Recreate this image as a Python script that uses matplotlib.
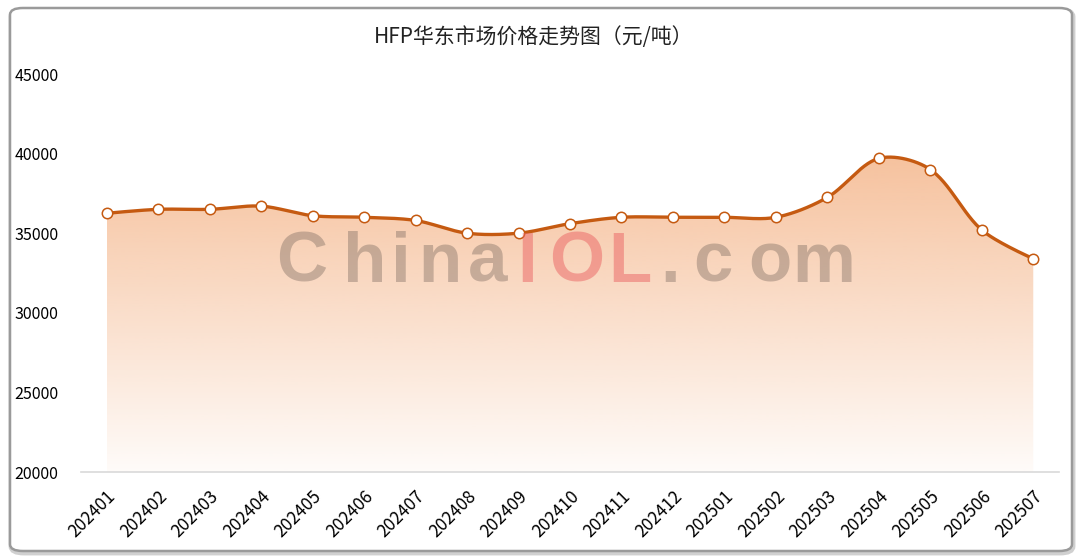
import numpy as np
import matplotlib
matplotlib.use("Agg")
import matplotlib.pyplot as plt
from matplotlib.patches import FancyBboxPatch, PathPatch
from matplotlib.path import Path

plt.rcParams['font.family'] = ['Noto Sans CJK SC', 'DejaVu Sans']

months = ['202401', '202402', '202403', '202404', '202405', '202406', '202407',
          '202408', '202409', '202410', '202411', '202412', '202501', '202502',
          '202503', '202504', '202505', '202506', '202507']
prices = [36250, 36500, 36500, 36700, 36100, 36000, 35800,
          35000, 35000, 35600, 36000, 36000, 36000, 36000,
          37250, 39700, 39000, 35200, 33400]
yticks = [20000, 25000, 30000, 35000, 40000, 45000]
title = 'HFP华东市场价格走势图（元/吨）'

line_col = '#c55a11'


def smooth_curve(xs, ys, sx, sy, smooth=0.5, n=30):
    # echarts-like bezier smoothing done in pixel-ish space
    X = np.asarray(xs, float) * sx
    Y = np.asarray(ys, float) * sy
    m = len(X)
    cp_in = np.zeros((m, 2))
    cp_out = np.zeros((m, 2))
    for i in range(m):
        if i == 0 or i == m - 1:
            cp_in[i] = cp_out[i] = (X[i], Y[i])
            continue
        vx, vy = X[i + 1] - X[i - 1], Y[i + 1] - Y[i - 1]
        lp = np.hypot(X[i] - X[i - 1], Y[i] - Y[i - 1])
        ln = np.hypot(X[i + 1] - X[i], Y[i + 1] - Y[i])
        r = ln / (ln + lp)
        cp_in[i] = (X[i] - vx * smooth * (1 - r), Y[i] - vy * smooth * (1 - r))
        cp_out[i] = (X[i] + vx * smooth * r, Y[i] + vy * smooth * r)
    t = np.linspace(0, 1, n)[:, None]
    pts = []
    for i in range(m - 1):
        p0 = np.array([X[i], Y[i]])
        p3 = np.array([X[i + 1], Y[i + 1]])
        p1, p2 = cp_out[i], cp_in[i + 1]
        seg = ((1 - t) ** 3) * p0 + 3 * ((1 - t) ** 2) * t * p1 + 3 * (1 - t) * t ** 2 * p2 + t ** 3 * p3
        pts.append(seg if i == 0 else seg[1:])
    pts = np.vstack(pts)
    return pts[:, 0] / sx, pts[:, 1] / sy


fig = plt.figure(figsize=(10.8, 5.59), dpi=100)

# card frame with shadow
shadow = FancyBboxPatch((11 / 1080, 6 / 559), 1062 / 1080, 543 / 559,
                        boxstyle="round,pad=0,rounding_size=0.012",
                        transform=fig.transFigure, facecolor='none',
                        edgecolor='#d0d0d0', linewidth=3.5, zorder=0)
frame = FancyBboxPatch((10 / 1080, 8 / 559), 1062 / 1080, 543 / 559,
                       boxstyle="round,pad=0,rounding_size=0.012",
                       transform=fig.transFigure, facecolor='white',
                       edgecolor='#9a9a9a', linewidth=1.8, zorder=1)
fig.patches.extend([shadow, frame])

ax = fig.add_axes([81 / 1080, (559 - 472) / 559, 978 / 1080, 398 / 559])
ax.set_zorder(2)
ax.patch.set_alpha(0)

x = np.arange(len(months))
sx, sy = 51.44, 15.92 / 1000
cx, cy = smooth_curve(x, prices, sx, sy, smooth=0.32)

# gradient area
verts = np.vstack([[cx[0], 20000], np.column_stack([cx, cy]), [cx[-1], 20000]])
clip = PathPatch(Path(verts), facecolor='none', edgecolor='none')
ax.add_patch(clip)
ytop = max(cy)
grad = np.zeros((256, 1, 4))
base = np.array([244, 177, 131]) / 255
grad[:, 0, :3] = base
grad[:, 0, 3] = np.linspace(0.78, 0.05, 256)
im = ax.imshow(grad, extent=[cx[0], cx[-1], 20000, ytop], origin='upper',
               aspect='auto', zorder=1, interpolation='bilinear')
im.set_clip_path(clip)

# watermark
wm_chars = list('ChinaIOL.com')
wm_pos = [302, 365, 401, 440, 488, 527, 577, 630, 670, 713, 770, 824]
for ch, px in zip(wm_chars, wm_pos):
    col = (0.92, 0.39, 0.39, 0.5) if ch in 'IOL' else (0.5, 0.43, 0.39, 0.42)
    fig.text(px / 1080, 1 - 282 / 559, ch, ha='center', va='baseline',
             fontsize=51, fontweight='bold', family='Liberation Sans',
             color=col, zorder=3)

ax.plot(cx, cy, color=line_col, lw=2.4, zorder=4, solid_capstyle='round')
ax.plot(x, prices, 'o', ms=7.5, mfc='white', mec=line_col, mew=1.1, zorder=5)

ax.set_xlim(-0.5, len(months) - 0.5)
ax.set_ylim(20000, 45000)
ax.set_yticks(yticks)
ax.set_yticklabels([str(v) for v in yticks], ha='left', fontsize=11.5)
ax.tick_params(axis='y', length=0, pad=48)
ax.set_xticks(x)
ax.set_xticklabels(months, rotation=45, ha='right', rotation_mode='anchor',
                   fontsize=12.5)
ax.tick_params(axis='x', length=0, pad=11)
for s in ['top', 'right', 'left']:
    ax.spines[s].set_visible(False)
ax.spines['bottom'].set_color('#d9d9d9')
ax.spines['bottom'].set_linewidth(1.2)

fig.text(534 / 1080, 1 - 37 / 559, title, ha='center', va='center',
         fontsize=15, color='#222222')

fig.savefig('out.png', dpi=100, facecolor='white')
